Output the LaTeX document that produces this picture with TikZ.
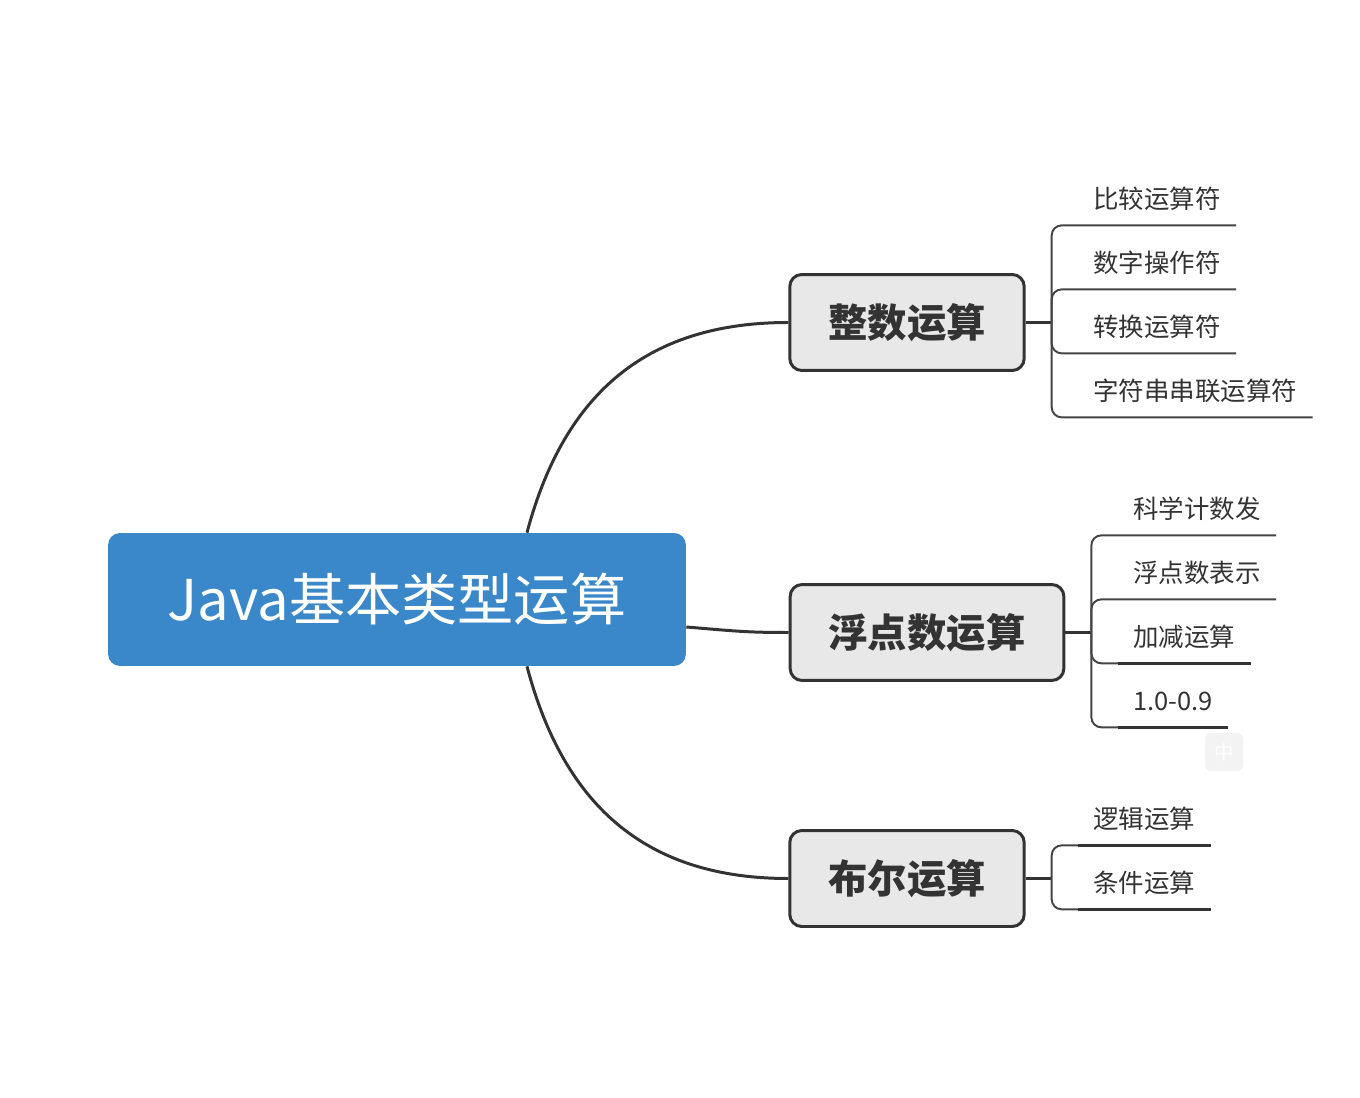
\documentclass[tikz,border=0pt]{standalone}
\usepackage{fontspec}
\setmainfont{Noto Sans CJK SC}
\definecolor{rootblue}{HTML}{3A88C9}
\definecolor{boxgray}{HTML}{E8E8E8}
\definecolor{ink}{HTML}{333333}
\definecolor{twiggray}{HTML}{444444}
\definecolor{imegray}{HTML}{F3F3F3}

\begin{document}
\begin{tikzpicture}[x = 0.02cm, y = -0.02cm,%
	root/.style={rectangle, rounded corners = 0.24cm, fill = rootblue, text = white,
		minimum width = 11.56cm, minimum height = 2.66cm, font = \fontsize{32}{36}\selectfont},
	topic/.style={rectangle, rounded corners = 0.24cm, draw = ink, line width = 1.7pt,
		fill = boxgray, text = ink, inner xsep = 0.77cm, minimum height = 1.92cm,
		font = \fontsize{22.4}{26}\selectfont\bfseries},
	leaf/.style={anchor = west, inner xsep = 0.3cm, minimum height = 1.04cm, text = ink,
		font = \fontsize{14.5}{17}\selectfont},
	trunk/.style={draw = ink, line width = 1.7pt},
	twig/.style={draw = twiggray, line width = 1.1pt, rounded corners = 0.2cm},
	bar/.style={draw = ink, line width = 1.9pt},
	ime/.style={rectangle, rounded corners = 0.1cm, fill = imegray, text = white,
		minimum size = 0.76cm, font = \fontsize{11}{12}\selectfont}]
	\useasboundingbox (0,0) rectangle (1360,1098);

	\node[root] (root) at (397,599.5) {Java基本类型运算};
	\node[topic] (int) at (907,322.5) {整数运算};
	\node[topic] (flt) at (927,632.5) {浮点数运算};
	\node[topic] (bool) at (907,878.5) {布尔运算};

	% junctions right of the topics
	\coordinate (intj) at ([xshift = 0.52cm]int.east);
	\coordinate (fltj) at ([xshift = 0.52cm]flt.east);
	\coordinate (boolj) at ([xshift = 0.52cm]bool.east);

	\node[leaf] (int1) at (1078,199) {比较运算符};
	\node[leaf] (int2) at (1078,263) {数字操作符};
	\node[leaf] (int3) at (1078,327) {转换运算符};
	\node[leaf] (int4) at (1078,391) {字符串串联运算符};

	\node[leaf] (flt1) at (1118,509) {科学计数发};
	\node[leaf] (flt2) at (1118,573) {浮点数表示};
	\node[leaf] (flt3) at (1118,637) {加减运算};
	\node[leaf] (flt4) at (1118,701) {1.0-0.9};

	\node[leaf] (bool1) at (1078,819) {逻辑运算};
	\node[leaf] (bool2) at (1078,883) {条件运算};

	\node[ime] (ime) at (1224,752) {中};

	% root to topics
	\draw[trunk] ([xshift = 2.6cm]root.north) .. controls (565,390) and (650,322.5) .. (int.west);
	\draw[trunk] ([yshift = -0.55cm]root.east) .. controls (735,631) and (745,632.5) .. (flt.west);
	\draw[trunk] ([xshift = 2.6cm]root.south) .. controls (565,810) and (650,878.5) .. (bool.west);

	% topics to leaves
	\path[twig, line width = 1.4pt, draw = ink]
	(int.east) edge (intj)
	(flt.east) edge (fltj)
	(bool.east) edge (boolj);

	\draw[twig] (intj) |- (int1.south west) -- (int1.south east);
	\draw[twig] (intj) |- (int2.south west) -- (int2.south east);
	\draw[twig] (intj) |- (int3.south west) -- (int3.south east);
	\draw[twig] (intj) |- (int4.south west) -- (int4.south east);

	\draw[twig] (fltj) |- (flt1.south west) -- (flt1.south east);
	\draw[twig] (fltj) |- (flt2.south west) -- (flt2.south east);
	\draw[twig] (fltj) |- (flt3.south west);
	\draw[twig] (fltj) |- (flt4.south west);
	\draw[bar] (flt3.south west) -- (flt3.south east);
	\draw[bar] (flt4.south west) -- (flt4.south east);

	\draw[twig] (boolj) |- (bool1.south west);
	\draw[twig] (boolj) |- (bool2.south west);
	\draw[bar] (bool1.south west) -- (bool1.south east);
	\draw[bar] (bool2.south west) -- (bool2.south east);
\end{tikzpicture}
\end{document}
